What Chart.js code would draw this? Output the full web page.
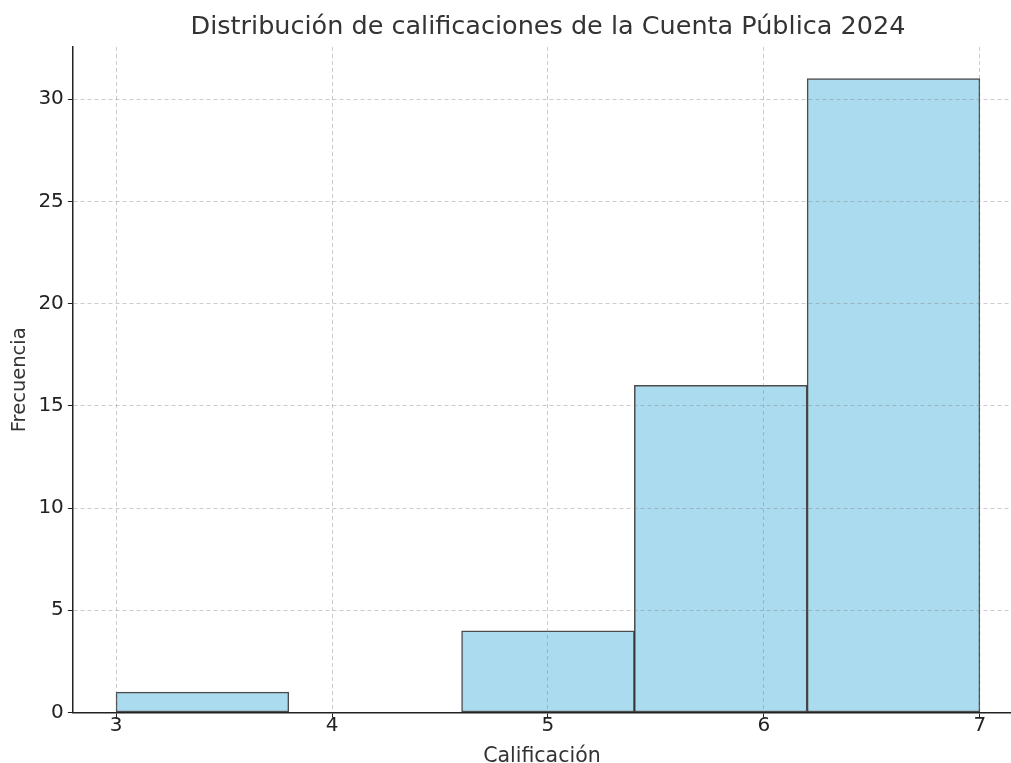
<!DOCTYPE html>
<html>
<head>
<meta charset="utf-8">
<script src="https://cdn.jsdelivr.net/npm/chart.js@4/dist/chart.umd.min.js"></script>
<style>
  html, body { margin: 0; padding: 0; background: #fff; }
  #wrap { width: 1011px; height: 763px; }
</style>
</head>
<body>
<div id="wrap"><canvas id="Histograma-Chart"></canvas></div>
<script>
// bins de la calificación (ancho 0.8 entre 3 y 7)
const binStarts = [3.0, 3.8, 4.6, 5.4, 6.2];
const binWidth = 0.8;
const frecuencias = [1, 0, 4, 16, 31];
const xTicks = [3, 4, 5, 6, 7];
const yTicks = [0, 5, 10, 15, 20, 25, 30];
const titulo = "Distribución de calificaciones de la Cuenta Pública 2024";

const data = {
  datasets: [
    {
      label: "Frecuencia",
      data: binStarts.map((s, i) => ({ x: s + binWidth / 2, y: frecuencias[i] })),
      backgroundColor: "#aadbef",
      borderColor: "rgba(0,0,0,0.7)",
      borderWidth: 1.5,
      borderSkipped: false,
      barPercentage: 1,
      categoryPercentage: 1,
    },
  ],
};

const gridStyle = {
  color: "rgba(120,120,120,0.38)",
  lineWidth: 1,
  offset: false,
  tickColor: "#222",
  tickLength: 5,
  drawOnChartArea: true,
  z: 1,
};

const axisBorder = { display: true, color: "#222", width: 1.5, dash: [4, 3], z: 2 };

// titulo centrado sobre el eje completo (el eje sigue hasta 7.2, fuera del recorte)
const tituloPlugin = {
  id: "tituloEje",
  afterDraw(chart) {
    const ctx = chart.ctx;
    const x = chart.scales.x;
    const cx = (chart.chartArea.left + x.getPixelForValue(7.2)) / 2;
    ctx.save();
    ctx.font = "25.5px 'DejaVu Sans'";
    ctx.fillStyle = "#333";
    ctx.textAlign = "center";
    ctx.textBaseline = "middle";
    ctx.fillText(titulo, cx, 27);
    ctx.restore();
  },
};

const config = {
  type: "bar",
  data: data,
  options: {
    responsive: true,
    maintainAspectRatio: false,
    animation: false,
    layout: { padding: { top: 47, right: 0, bottom: 0, left: 8 } },
    plugins: {
      legend: { display: false },
      tooltip: { enabled: false },
      title: { display: false },
    },
    scales: {
      x: {
        type: "linear",
        min: 2.8,
        max: 7.144,
        offset: false,
        afterBuildTicks: (axis) => { axis.ticks = xTicks.map(v => ({ value: v })); },
        ticks: { color: "#222", font: { family: "DejaVu Sans", size: 20, lineHeight: 1 }, padding: -2 },
        grid: gridStyle,
        border: axisBorder,
        title: {
          display: true,
          text: "Calificación",
          color: "#333",
          font: { family: "DejaVu Sans", size: 20.5, lineHeight: 1 },
          padding: { top: 13, bottom: -4 },
        },
      },
      y: {
        min: 0,
        max: 32.55,
        afterBuildTicks: (axis) => { axis.ticks = yTicks.map(v => ({ value: v })); },
        ticks: { color: "#222", font: { family: "DejaVu Sans", size: 20 }, padding: 4 },
        grid: gridStyle,
        border: axisBorder,
        title: {
          display: true,
          text: "Frecuencia",
          color: "#333",
          font: { family: "DejaVu Sans", size: 19.5 },
          padding: { top: 0, bottom: 3 },
        },
      },
    },
  },
  plugins: [tituloPlugin],
};

let myChart = new Chart(document.getElementById("Histograma-Chart"), config);
</script>
</body>
</html>
